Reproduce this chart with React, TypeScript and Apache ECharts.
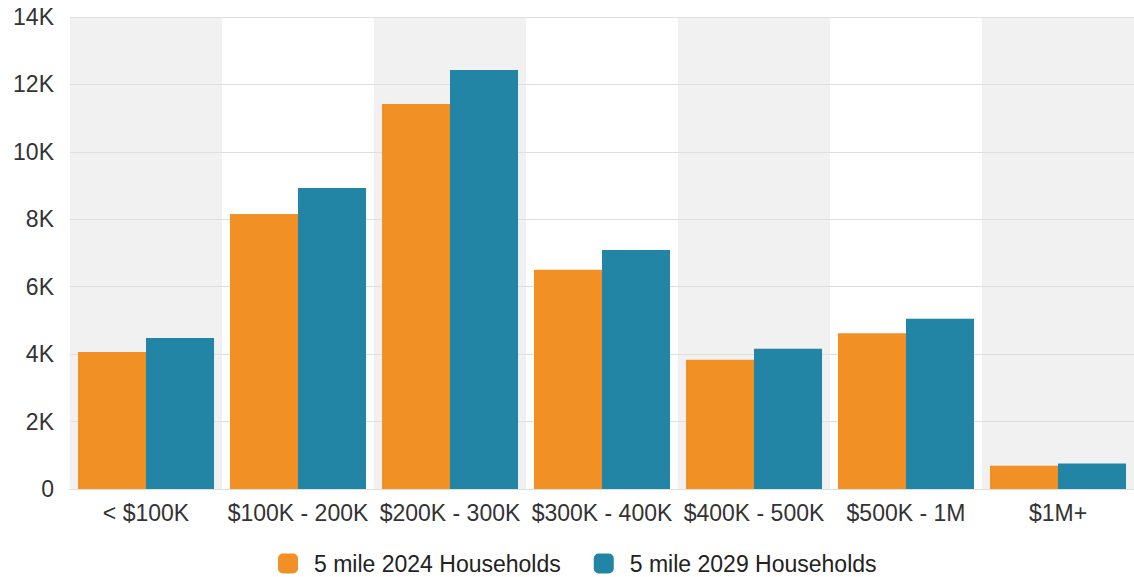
import React, { useEffect, useRef } from "react";
import * as echarts from "echarts";

const categories = ["< $100K", "$100K - 200K", "$200K - 300K", "$300K - 400K", "$400K - 500K", "$500K - 1M", "$1M+"];
const households2024 = [4060, 8160, 11420, 6500, 3830, 4620, 690];
const households2029 = [4480, 8930, 12430, 7090, 4160, 5050, 760];
const seriesNames = ["5 mile 2024 Households", "5 mile 2029 Households"];
const yTicks = [0, 2000, 4000, 6000, 8000, 10000, 12000, 14000];

const FONT = "'Liberation Sans', Arial, Helvetica, sans-serif";

export default function App() {
  const ref = useRef<HTMLDivElement>(null);
  useEffect(() => {
    document.body.style.margin = "0";
    if (!ref.current) return;
    const chart = echarts.init(ref.current, undefined, { renderer: "svg" });
    chart.setOption({
      animation: false,
      backgroundColor: "#ffffff",
      textStyle: { fontFamily: FONT },
      grid: { left: 70, right: 0, top: 17, bottom: 88, containLabel: false },
      legend: {
        data: seriesNames,
        bottom: 2,
        padding: 0,
        left: 278,
        itemWidth: 20,
        itemHeight: 20,
        itemGap: 33,
        icon: "roundRect",
        textStyle: { fontSize: 23, color: "#222", fontFamily: FONT, padding: [0, 0, 0, 11] },
      },
      xAxis: {
        type: "category",
        data: categories,
        z: 0,
        axisLine: { lineStyle: { color: "#c8c8c8", width: 1 } },
        axisTick: { alignWithLabel: true, length: 6, lineStyle: { color: "#777", width: 2 } },
        axisLabel: { fontSize: 23, color: "#333", margin: 12, fontFamily: FONT, interval: 0 },
        splitArea: { show: true, areaStyle: { color: ["#f1f1f1", "#ffffff"] } },
      },
      yAxis: {
        type: "value",
        z: 1,
        min: yTicks[0],
        max: yTicks[yTicks.length - 1],
        interval: 2000,
        axisLine: { show: false },
        axisTick: { show: false },
        axisLabel: {
          fontSize: 23,
          color: "#333",
          margin: 16,
          fontFamily: FONT,
          formatter: (v: number) => (v === 0 ? "0" : v / 1000 + "K"),
        },
        splitLine: { lineStyle: { color: "#dedede", width: 1 } },
      },
      series: [
        {
          name: seriesNames[0],
          type: "bar",
          z: 2,
          data: households2024,
          itemStyle: { color: "#F19125" },
          barGap: "0%",
          barCategoryGap: "10.5%",
        },
        {
          name: seriesNames[1],
          type: "bar",
          z: 2,
          data: households2029,
          itemStyle: { color: "#2385A5" },
          barGap: "0%",
          barCategoryGap: "10.5%",
        },
      ],
    });
    return () => chart.dispose();
  }, []);
  return <div ref={ref} style={{ width: 1134, height: 577 }} />;
}
